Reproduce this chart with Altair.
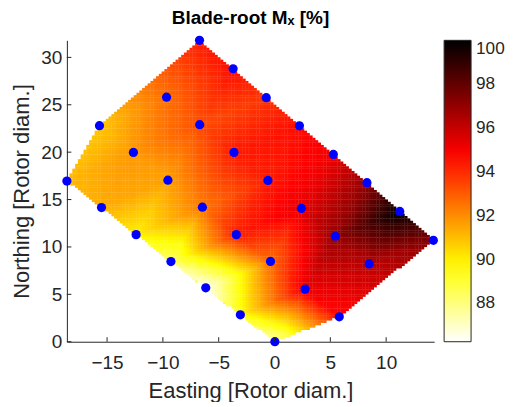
import numpy as np
import pandas as pd
import altair as alt

# measurement points (Easting, Northing) and blade-root Mx [%]
east = [-6.72, -3.71, -9.67, -6.70, -15.68, -12.64, -3.63, -18.60, -9.55, -0.74,
        2.23, 5.27, 8.28, -0.59, -15.50, -6.46, -12.40, -3.42, -9.28, -6.16,
        -3.06, 2.41, 11.22, 5.45, 14.23, -0.36, 8.48, 2.74, 5.80, 0.03]
north = [31.80, 28.80, 25.80, 22.90, 22.80, 19.97, 19.97, 16.95, 17.05, 25.75,
         22.78, 19.76, 16.78, 17.02, 14.15, 14.20, 11.30, 11.30, 8.46, 5.69,
         2.84, 14.07, 13.75, 11.13, 10.70, 8.47, 8.21, 5.55, 2.63, 0.00]
mx = [94.3, 94.6, 92.6, 93.3, 90.8, 91.8, 94.3, 91.1, 91.6, 93.8,
      94.6, 95.2, 97.0, 94.3, 91.4, 92.4, 90.0, 94.2, 88.3, 86.3,
      89.6, 95.3, 100.0, 97.0, 97.3, 92.6, 96.2, 95.2, 94.6, 87.4]

x_ticks = [-15, -10, -5, 0, 5, 10]
y_ticks = [0, 5, 10, 15, 20, 25, 30]
c_ticks = [88, 90, 92, 94, 96, 98, 100]
x_dom = [-18.6, 14.3]
y_dom = [0, 31.8]
c_dom = [86.25, 89.69, 94.84, 100]
c_rng = ["#ffffff", "#ffff00", "#ff0000", "#000000"]


# ---- Delaunay triangulation (Bowyer-Watson) + linear interpolation, like griddata
def delaunay(px, py):
    pts = list(zip(px, py))
    n = len(pts)
    big = 1e4
    pts_all = pts + [(-big, -big), (big, -big), (0.0, big)]
    tris = [(n, n + 1, n + 2)]

    def circ(t):
        (ax, ay), (bx, by), (cx, cy) = pts_all[t[0]], pts_all[t[1]], pts_all[t[2]]
        d = 2 * (ax * (by - cy) + bx * (cy - ay) + cx * (ay - by))
        ux = ((ax * ax + ay * ay) * (by - cy) + (bx * bx + by * by) * (cy - ay) + (cx * cx + cy * cy) * (ay - by)) / d
        uy = ((ax * ax + ay * ay) * (cx - bx) + (bx * bx + by * by) * (ax - cx) + (cx * cx + cy * cy) * (bx - ax)) / d
        return ux, uy, (ax - ux) ** 2 + (ay - uy) ** 2

    for i, (x, y) in enumerate(pts):
        bad = []
        for t in tris:
            ux, uy, r2 = circ(t)
            if (x - ux) ** 2 + (y - uy) ** 2 < r2:
                bad.append(t)
        edges = {}
        for t in bad:
            for e in ((t[0], t[1]), (t[1], t[2]), (t[2], t[0])):
                k = tuple(sorted(e))
                edges[k] = edges.get(k, 0) + 1
        tris = [t for t in tris if t not in bad]
        for e, c in edges.items():
            if c == 1:
                tris.append((e[0], e[1], i))
    return [t for t in tris if max(t) < n]


px = np.array(east)
py = np.array(north)
pv = np.array(mx)
tris = delaunay(east, north)

dx, dy = 0.25, 0.25
gx = np.arange(x_dom[0] + dx / 2, x_dom[1], dx)
gy = np.arange(y_dom[0] + dy / 2, y_dom[1], dy)
GX, GY = np.meshgrid(gx, gy)
GX = GX.ravel()
GY = GY.ravel()
GV = np.full(GX.shape, np.nan)
for a, b, c in tris:
    x1, y1, x2, y2, x3, y3 = px[a], py[a], px[b], py[b], px[c], py[c]
    det = (y2 - y3) * (x1 - x3) + (x3 - x2) * (y1 - y3)
    if abs(det) < 1e-9:
        continue
    l1 = ((y2 - y3) * (GX - x3) + (x3 - x2) * (GY - y3)) / det
    l2 = ((y3 - y1) * (GX - x3) + (x1 - x3) * (GY - y3)) / det
    l3 = 1 - l1 - l2
    m = (l1 >= -1e-9) & (l2 >= -1e-9) & (l3 >= -1e-9)
    GV[m] = l1[m] * pv[a] + l2[m] * pv[b] + l3[m] * pv[c]

ok = ~np.isnan(GV)
grid = pd.DataFrame({
    "x0": np.round(GX[ok] - 0.56 * dx, 3),
    "x1": np.round(GX[ok] + 0.56 * dx, 3),
    "y0": np.round(GY[ok] - 0.56 * dy, 3),
    "y1": np.round(GY[ok] + 0.56 * dy, 3),
    "v": np.round(GV[ok], 2),
})
pts_df = pd.DataFrame({"e": east, "n": north, "v": mx})
xt_df = pd.DataFrame({"t": x_ticks})
yt_df = pd.DataFrame({"t": y_ticks})

W, H = 368, 302
FONT = "Liberation Sans"
GREY = "#262626"

xscale = alt.Scale(domain=x_dom, nice=False, zero=False)
yscale = alt.Scale(domain=y_dom, nice=False, zero=False)
xaxis = alt.Axis(values=x_ticks, title="Easting [Rotor diam.]", labelPadding=12, titlePadding=8)
yaxis = alt.Axis(values=y_ticks, title="Northing [Rotor diam.]", labelPadding=5, titlePadding=7)

heat = alt.Chart(grid).mark_rect(strokeWidth=0).encode(
    x=alt.X("x0:Q", scale=xscale, axis=xaxis),
    x2="x1:Q",
    y=alt.Y("y0:Q", scale=yscale, axis=yaxis),
    y2="y1:Q",
    color=alt.Color(
        "v:Q",
        scale=alt.Scale(domain=c_dom, range=c_rng, interpolate="rgb"),
        legend=alt.Legend(
            title=None, values=c_ticks, direction="vertical", orient="right",
            gradientLength=H, gradientThickness=27, offset=10, padding=0,
            gradientStrokeColor=GREY, gradientStrokeWidth=1,
            labelFont=FONT, labelFontSize=17.2, labelColor=GREY, labelOffset=5,
            labelBaseline="middle",
        ),
    ),
)

points = alt.Chart(pts_df).mark_circle(color="#0000ff", size=85, opacity=1).encode(
    x=alt.X("e:Q", scale=xscale, axis=xaxis),
    y=alt.Y("n:Q", scale=yscale, axis=yaxis),
)

xticks = alt.Chart(xt_df).mark_rule(color=GREY, strokeWidth=1).encode(
    x=alt.X("t:Q", scale=xscale, axis=xaxis),
    y=alt.value(H),
    y2=alt.value(H - 4.5),
)
yticks = alt.Chart(yt_df).mark_rule(color=GREY, strokeWidth=1).encode(
    y=alt.Y("t:Q", scale=yscale, axis=yaxis),
    x=alt.value(0),
    x2=alt.value(4.5),
)

chart = alt.layer(heat, points, xticks, yticks).properties(
    width=W, height=H,
    title=alt.TitleParams("Blade-root Mₓ [%]", font=FONT, fontSize=19, fontWeight="bold",
                          color="#000000", offset=8, anchor="middle"),
    padding={"left": 2, "top": 0, "right": 0, "bottom": 0},
).configure_view(stroke=None).configure_axis(
    grid=False, tickSize=0, domainColor=GREY, domainWidth=1,
    labelFont=FONT, labelFontSize=19, labelColor=GREY,
    titleFont=FONT, titleFontSize=22, titleFontWeight="normal", titleColor=GREY,
)

chart.save("out.html", embed_options={"renderer": "svg", "actions": False})
